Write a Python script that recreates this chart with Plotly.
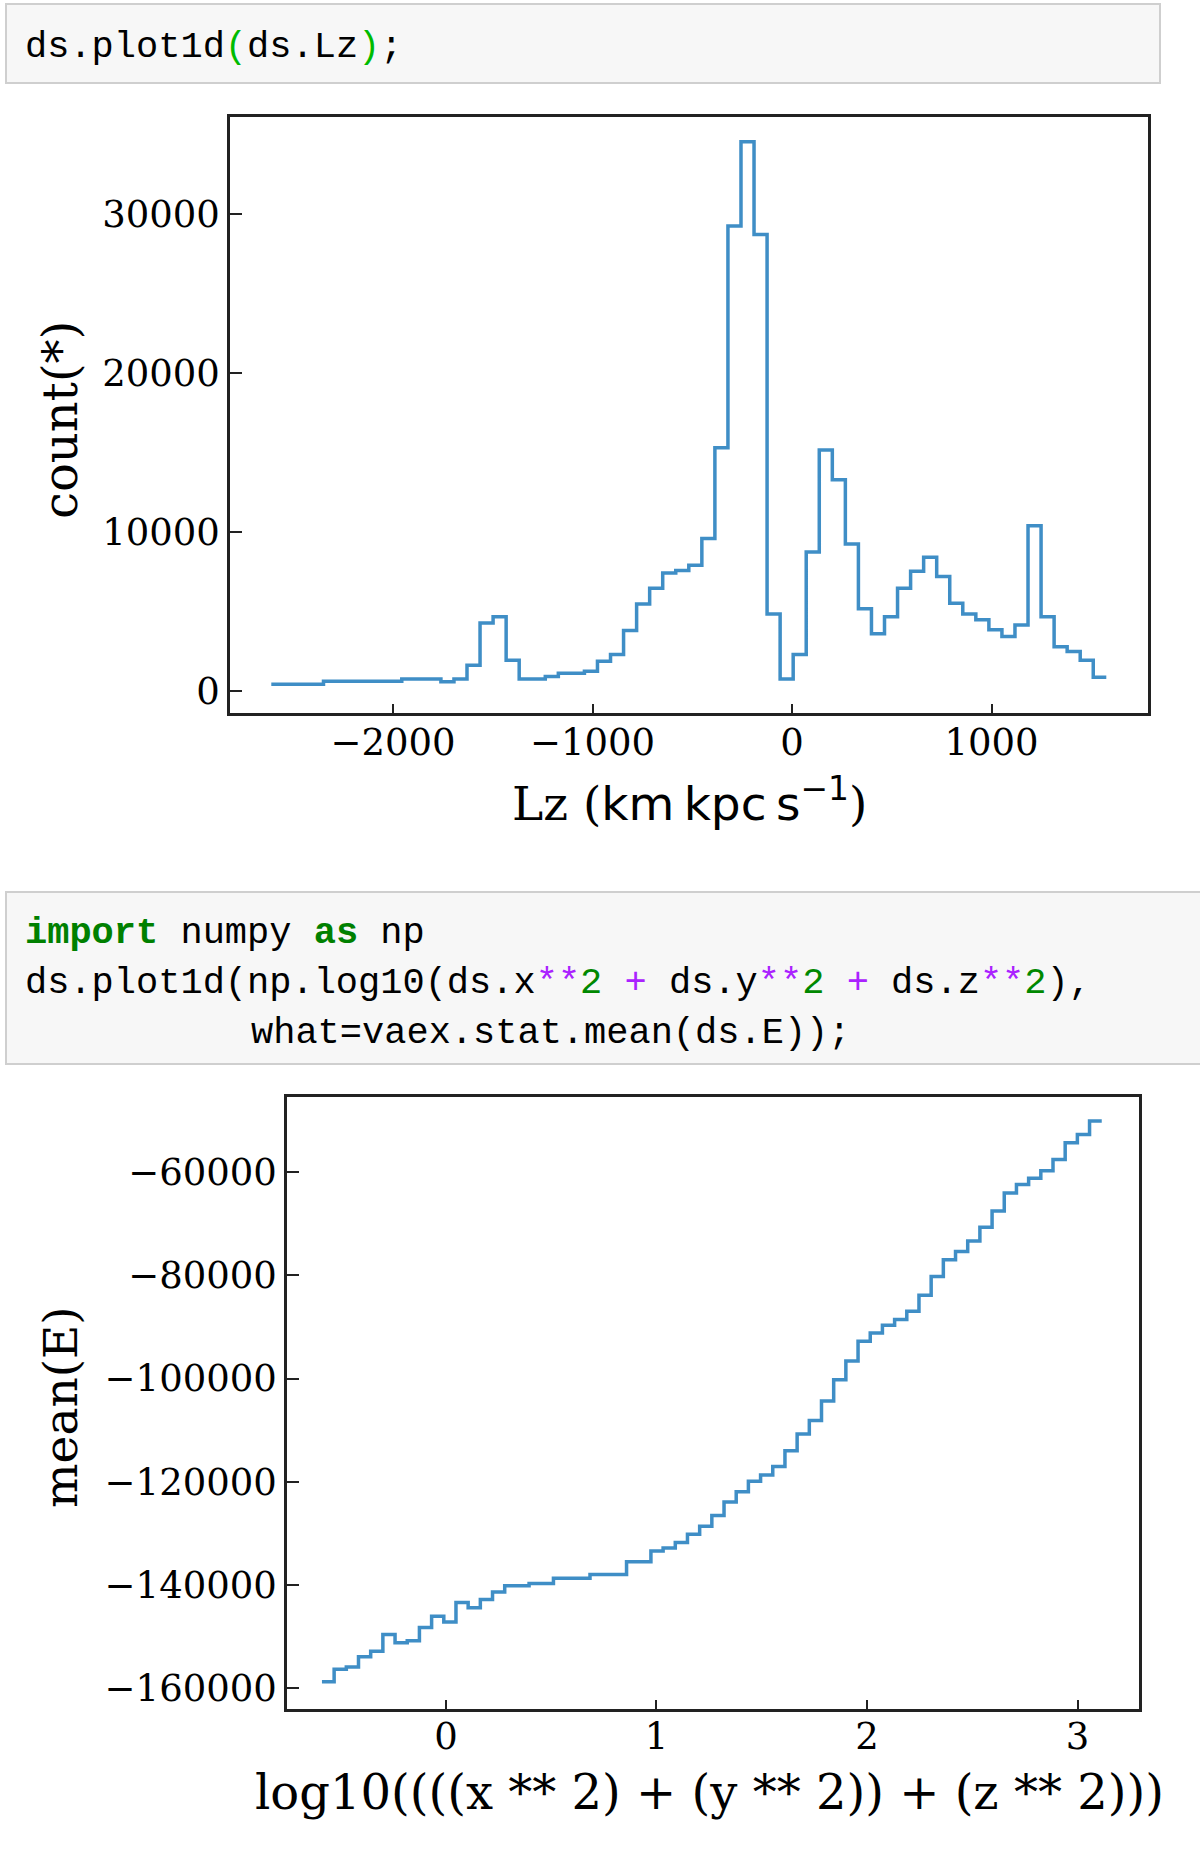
import numpy as np
import plotly.graph_objects as go

# ---------------- data ----------------
# Top histogram: count(*) of Lz, 64 bins between the limits
LZ_MIN, LZ_MAX = -2610.0, 1575.0
lz_counts = [420, 420, 420, 420, 620, 620, 620, 620, 620, 620,
             750, 750, 750, 580, 750, 1620, 4280, 4680, 1940, 750,
             750, 920, 1120, 1120, 1245, 1870, 2290, 3810, 5480, 6470,
             7420, 7590, 7920, 9590, 15310, 29270, 34570, 28730, 4850, 750,
             2290, 8750, 15170, 13300, 9250, 5170, 3610, 4680, 6470, 7540,
             8410, 7210, 5520, 4850, 4480, 3850, 3430, 4150, 10400, 4680,
             2790, 2490, 1940, 870]
lz_xticks = [-2000, -1000, 0, 1000]
lz_xticktext = ["\u22122000", "\u22121000", "0", "1000"]
lz_yticks = [0, 10000, 20000, 30000]
lz_yticktext = ["0", "10000", "20000", "30000"]

# Bottom: mean(E) versus log10(r^2), 64 bins between the limits
R_MIN, R_MAX = -0.589, 3.115
mean_e = [-158785, -156355, -155950, -153925, -152870, -149630, -151250, -150850,
          -148255, -146070, -147200, -143400, -144450, -142830, -141370, -140155,
          -140155, -139750, -139750, -138700, -138700, -138700, -137970, -137970,
          -137970, -135540, -135540, -133430, -132865, -131810, -130190, -128650,
          -126550, -123950, -121930, -119905, -118690, -117070, -113990, -110750,
          -108160, -104350, -100220, -96580, -92770, -91150, -89690, -88560,
          -86940, -83860, -80215, -76975, -75355, -73330, -70655, -67500,
          -64015, -62395, -61180, -59720, -57535, -54295, -52675, -50080]
r_xticks = [0, 1, 2, 3]
r_xticktext = ["0", "1", "2", "3"]
r_yticks = [-160000, -140000, -120000, -100000, -80000, -60000]
r_yticktext = ["\u2212160000", "\u2212140000", "\u2212120000", "\u2212100000",
               "\u221280000", "\u221260000"]

# ---------------- figure ----------------
W, H = 1200, 1854
LINE_C = "#3f8ec6"
AX_C = "#222222"
SERIF = "DejaVu Serif"
MONO = "Liberation Mono"


def px_x(p):
    return p / W


def px_y(p):
    return 1 - p / H


def steps(vmin, vmax, vals):
    n = len(vals)
    edges = np.linspace(vmin, vmax, n + 1)
    yv = list(vals) + [vals[-1]]
    return edges, yv


fig = go.Figure()

ex, ey = steps(LZ_MIN, LZ_MAX, lz_counts)
fig.add_trace(go.Scatter(x=ex, y=ey, mode="lines", line=dict(color=LINE_C, width=3.5, shape="hv"),
                         xaxis="x", yaxis="y", showlegend=False, hoverinfo="skip"))
rx, ry = steps(R_MIN, R_MAX, mean_e)
fig.add_trace(go.Scatter(x=rx, y=ry, mode="lines", line=dict(color=LINE_C, width=3.5, shape="hv"),
                         xaxis="x2", yaxis="y2", showlegend=False, hoverinfo="skip"))

axis_common = dict(showgrid=False, zeroline=False, showline=True, linecolor=AX_C, linewidth=2.5,
                   mirror=True, ticks="inside", tickcolor=AX_C, tickwidth=2,
                   tickfont=dict(family=SERIF, size=37, color="black"), tickmode="array")

fig.update_layout(
    width=W, height=H,
    margin=dict(l=0, r=0, t=0, b=0),
    paper_bgcolor="white", plot_bgcolor="white",
    xaxis=dict(axis_common, domain=[px_x(230), px_x(1148)], range=[-2817, 1784], anchor="y",
               tickvals=lz_xticks, ticktext=lz_xticktext, ticklen=9, ticklabelstandoff=-5),
    yaxis=dict(axis_common, domain=[px_y(713), px_y(117)], range=[-1384, 36123], anchor="x",
               tickvals=lz_yticks, ticktext=lz_yticktext, ticklen=12),
    xaxis2=dict(axis_common, domain=[px_x(287), px_x(1139)], range=[-0.755, 3.292], anchor="y2",
                tickvals=r_xticks, ticktext=r_xticktext, ticklen=9, ticklabelstandoff=-7),
    yaxis2=dict(axis_common, domain=[px_y(1709), px_y(1097)], range=[-164070, -45420], anchor="x2",
                tickvals=r_yticks, ticktext=r_yticktext, ticklen=12),
)

# code cells
shapes = [
    dict(type="rect", xref="paper", yref="paper", x0=px_x(6), x1=px_x(1160), y0=px_y(83), y1=px_y(4),
         fillcolor="#f7f7f7", line=dict(color="#cfcfcf", width=2), layer="below"),
    dict(type="rect", xref="paper", yref="paper", x0=px_x(6), x1=px_x(1210), y0=px_y(1064), y1=px_y(892),
         fillcolor="#f7f7f7", line=dict(color="#cfcfcf", width=2), layer="below"),
]
fig.update_layout(shapes=shapes)

GREEN_B = "#00bb00"
KW = "#008000"
OP = "#aa22ff"
NUM = "#008800"


def sp(t, c, bold=False):
    if bold:
        return f'<span style="color:{c}"><b>{t}</b></span>'
    return f'<span style="color:{c}">{t}</span>'


code_lines = [
    (23, 47, "ds.plot1d" + sp("(", GREEN_B) + "ds.Lz" + sp(")", GREEN_B) + ";"),
    (23, 933, sp("import", KW, True) + " numpy " + sp("as", KW, True) + " np"),
    (23, 983, "ds.plot1d(np.log10(ds.x" + sp("**", OP) + sp("2", NUM) + " " + sp("+", OP)
     + " ds.y" + sp("**", OP) + sp("2", NUM) + " " + sp("+", OP) + " ds.z" + sp("**", OP)
     + sp("2", NUM) + "),"),
    (249, 1033, "what=vaex.stat.mean(ds.E));"),
]
annotations = []
for x0, y0, txt in code_lines:
    annotations.append(dict(x=px_x(x0), y=px_y(y0), xref="paper", yref="paper", text=txt,
                            showarrow=False, xanchor="left", yanchor="middle",
                            font=dict(family=MONO, size=37, color="black")))

# axis labels
annotations += [
    dict(x=px_x(60), y=px_y(420), xref="paper", yref="paper", text="count(*)", textangle=-90,
         showarrow=False, xanchor="center", yanchor="middle", font=dict(family=SERIF, size=48, color="black")),
    dict(x=px_x(689), y=px_y(800), xref="paper", yref="paper",
         text='Lz (<span style="font-family:DejaVu Sans">km\u2009kpc\u2009s<sup>\u22121</sup></span>)',
         showarrow=False, xanchor="center", yanchor="middle", font=dict(family=SERIF, size=47, color="black")),
    dict(x=px_x(60), y=px_y(1407), xref="paper", yref="paper", text="mean(E)", textangle=-90,
         showarrow=False, xanchor="center", yanchor="middle", font=dict(family=SERIF, size=47, color="black")),
    dict(x=px_x(709), y=px_y(1792), xref="paper", yref="paper",
         text="log10((((x ** 2) + (y ** 2)) + (z ** 2)))",
         showarrow=False, xanchor="center", yanchor="middle", font=dict(family=SERIF, size=48, color="black")),
]
fig.update_layout(annotations=annotations)

fig.write_html("out.html", config={"displayModeBar": False},
               post_script="document.body.style.margin='0px';")
